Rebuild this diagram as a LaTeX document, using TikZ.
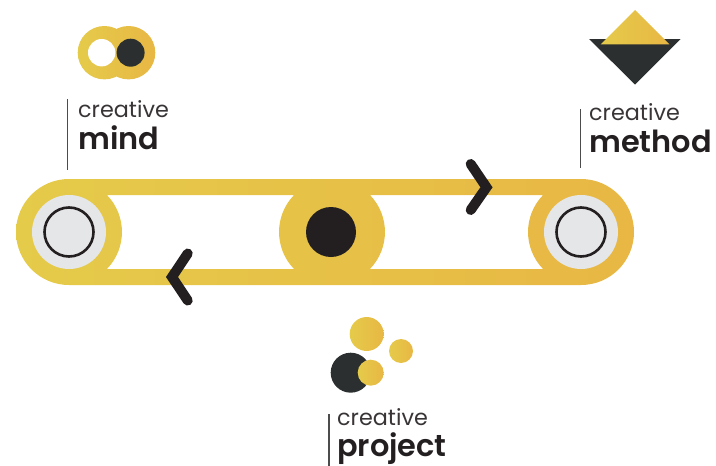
\documentclass[tikz,border=0pt]{standalone}
\usepackage{fontspec}
\setmainfont{Poppins}
\newfontfamily\medfont{Poppins SemiBold}
\definecolor{goldL}{HTML}{E5CB4A}
\definecolor{goldR}{HTML}{E8B744}
\definecolor{darkfill}{HTML}{2B2F30}
\definecolor{inkc}{HTML}{231F20}
\definecolor{greyc}{HTML}{E5E6E8}
\tikzset{
  x=1pt,y=1pt,
  gold/.style={left color=goldL,right color=goldR,draw=none},
  chevron/.style={draw=inkc,line width=10pt,line cap=round,line join=miter},
  rulebar/.style={draw=black!70,line width=1.1pt},
  word/.style={inner sep=0pt,anchor=base west,text=inkc!90,font=\fontsize{22.3pt}{24pt}\selectfont},
  bold/.style={inner sep=0pt,anchor=base west,text=inkc,font=\medfont\fontsize{30.4pt}{32pt}\selectfont},
}
\begin{document}
\begin{tikzpicture}
\useasboundingbox (0,0) rectangle (716,-466);
% belt
\shade[gold,even odd rule]
  (69,-179) -- (581,-179) arc (90:-90:53) -- (69,-285) arc (270:90:53) -- cycle
  (106.9,-195) -- (294.1,-195) arc (135.7:224.3:53) -- (106.9,-269) arc (-44.3:44.3:53) -- cycle
  (369.9,-195) -- (543.1,-195) arc (135.7:224.3:53) -- (369.9,-269) arc (-44.3:44.3:53) -- cycle;
% rollers
\foreach \n/\cx in {a/69,c/581}{
  \fill[greyc] (\cx,-232) circle (37);
  \draw[inkc,line width=2.6pt] (\cx,-232) circle (24.5);
}
\fill[inkc] (331,-232) circle (25);
% chevrons
\draw[chevron] (187.7,-253.5) -- (172,-277) -- (187.7,-300.5);
\draw[chevron] (470.7,-164) -- (486.5,-187.3) -- (470.7,-210);
% mind icon
\shade[gold,nonzero rule] (104.4,-52.7) circle (26.7) (128.6,-52.7) circle (26.7);
\fill[white] (101.7,-52.7) circle (13.7);
\fill[darkfill] (130.6,-52.7) circle (14);
% method icon
\fill[darkfill] (589,-39) -- (680.7,-39) -- (635,-84.5) -- cycle;
\shade[gold] (635,-10) -- (669.3,-44.3) -- (600.7,-44.3) -- cycle;
% project icon
\shade[gold] (366.7,-334) circle (17);
\shade[gold] (401,-351) circle (12);
\fill[darkfill] (350.7,-372.7) circle (20);
\shade[gold] (370.7,-372.7) circle (13);
% labels
\draw[rulebar] (67.5,-99) -- (67.5,-170);
\draw[rulebar] (580.5,-109) -- (580.5,-168);
\draw[rulebar] (329,-414) -- (329,-466);
\node[word] (t1) at (78,-117.3) {creative};
\node[bold] (t2) at (78,-149.5) {mind};
\node[word] (t3) at (589,-120.5) {creative};
\node[bold] (t4) at (589,-152.5) {method};
\node[word] (t5) at (337,-425) {creative};
\node[bold] (t6) at (337,-456) {project};
\end{tikzpicture}
\end{document}
